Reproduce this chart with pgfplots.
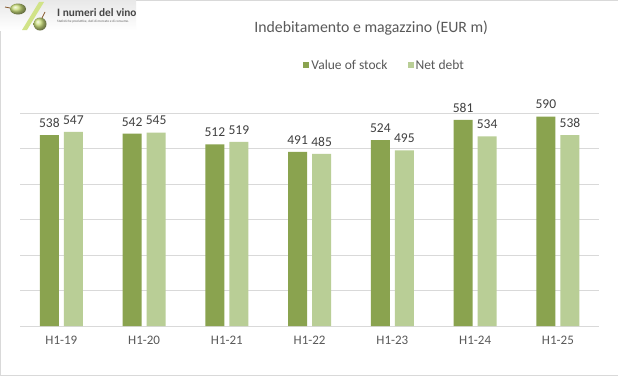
\documentclass[border=0pt]{standalone}
\usepackage{fontspec}
\setmainfont{Carlito}
\usepackage{pgfplots}
\pgfplotsset{compat=1.18}
\definecolor{dk}{HTML}{8AA34F}
\definecolor{lt}{HTML}{B9CE96}
\definecolor{gridc}{HTML}{D9D9D9}
\definecolor{txt}{HTML}{595959}
\definecolor{lbl}{HTML}{404040}
\definecolor{grape}{HTML}{C5DC6A}
\begin{document}
\begin{tikzpicture}[x=1pt,y=1pt]
\draw[draw=gridc, fill=white] (0.5,0.5) rectangle (617.5,375.5);
% logo
\shade[top color=gray!18, bottom color=white] (0,376) rectangle (136,346);
\fill[grape!80!white] (22,346) -- (27,346) -- (44,374) -- (39,374) -- cycle;
\shade[ball color=grape, opacity=0.9] (18,367) ellipse (8 and 5.5);
\shade[ball color=grape, opacity=0.9] (40,352) circle (6.5);
\draw[brown!70!black, line width=0.8pt] (42,358) -- (45,364);
\draw[brown!70!black, line width=0.8pt] (10,368) -- (5,369);
\node[anchor=west, inner sep=0, text=black!72, font=\fontsize{11.3}{13}\selectfont\bfseries] at (57,363) {I numeri del vino};
\node[anchor=west, inner sep=0, text=black!60, font=\fontsize{3.4}{4}\selectfont] at (57,354) {Statistiche produttive, dati di mercato e di consumo.};
% title
\node[text=txt, font=\fontsize{15.8}{18}\selectfont] at (371,348) {Indebitamento e magazzino (EUR m)};
\begin{axis}[
  at={(20pt,50pt)}, anchor=south west, scale only axis,
  width=579pt, height=213pt,
  ymin=0, ymax=600, xmin=-0.5, xmax=6.5,
  ytick={0,100,...,600}, yticklabels={},
  ymajorgrids, grid style={draw=gridc, line width=0.8pt},
  axis line style={draw=none},
  xtick={0,...,6},
  xticklabels={H1-19,H1-20,H1-21,H1-22,H1-23,H1-24,H1-25},
  major tick length=0pt, tick style={draw=none},
  xticklabel style={text=txt, font=\fontsize{13}{15}\selectfont, yshift=-6pt},
  /pgf/number format/assume math mode=true,
  ybar, bar width=19pt,
  nodes near coords,
  nodes near coords style={text=lbl, font=\fontsize{13.5}{15}\selectfont, yshift=4pt},
  legend columns=2,
  legend style={draw=none, fill=none, at={(axis description cs:0.6295,1.225)}, anchor=center,
    font=\fontsize{13.5}{15}\selectfont, text=txt,
    /tikz/every even column/.append style={column sep=18pt}},
  legend image code/.code={\fill[#1] (0pt,-3pt) rectangle (6pt,3pt);},
  clip=false,
]
\addplot[fill=dk, draw=none, bar shift=-12pt] coordinates {(0,538)(1,542)(2,512)(3,491)(4,524)(5,581)(6,590)};
\addplot[fill=lt, draw=none, bar shift=12pt] coordinates {(0,547)(1,545)(2,519)(3,485)(4,495)(5,534)(6,538)};
\legend{Value of stock, Net debt}
\end{axis}
\end{tikzpicture}
\end{document}
